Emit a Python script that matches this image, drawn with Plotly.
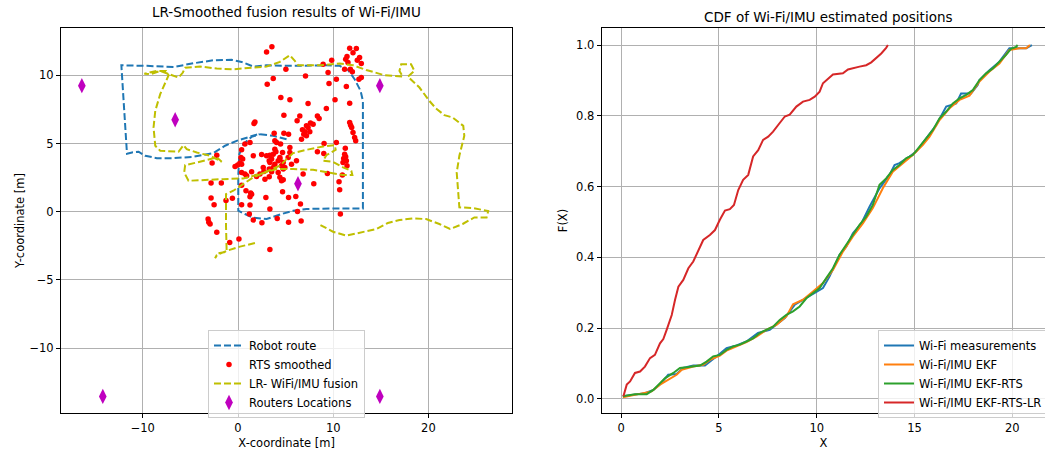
import plotly.graph_objects as go

# ---------------- Left chart data ----------------
route_x = [5.10, 3.70, 2.13, 0.91, -0.14, -1.36, -2.58, -4.68, -6.77, -8.52, -9.74, -10.44, -11.13, -11.66,
           -11.83, -12.01, -12.25, -9.56, -6.77, -4.68, -2.58, -0.66, 0.38, 1.61, 3.00, 5.79, 9.28, 10.68,
           11.55, 12.25, 12.88, 13.12, 13.12, 13.12, 9.98, 7.19, 5.79, 4.57, 3.00, 1.61, 0.73, 0.03, 0.03,
           0.14, 0.56, 1.43, 2.30]
route_y = [5.32, 5.57, 5.69, 5.45, 5.20, 4.84, 4.30, 4.03, 3.93, 3.93, 4.10, 4.40, 4.35, 4.25,
           6.30, 8.74, 10.74, 10.70, 10.62, 10.89, 11.11, 11.14, 10.99, 10.65, 10.74, 10.70, 10.74, 10.70,
           10.40, 9.72, 8.86, 8.13, 3.86, 0.24, 0.24, 0.20, 0.07, -0.17, -0.54, -0.44, -0.17, 0.07, 2.64,
           4.22, 4.96, 5.49, 5.69]

rts_x = [3.00, 3.56, 3.07, 3.70, 5.03, 7.09, 8.94, 9.84, 9.46, 9.56, 10.33, 11.38, 11.73, 12.43, 11.45,
         11.31, 11.55, 11.80, 12.01, 12.77, 12.95, 12.53, 12.70, 12.95, 11.73, 4.50, 5.45, 7.36, 9.28, 10.19,
         4.82, 6.49, 6.21, 8.34, 8.52, 7.61, 7.19, 7.36, 7.02, 6.91, 7.19, 6.67, 6.77, 1.78, 1.68,
         11.83, 11.94, 12.08, 12.25, 12.36, 3.80, 4.82, 5.31, 3.87, 4.05, 4.47, 1.26, 0.73, 0.38,
         -2.23, -2.72, 0.31, 0.21, -0.03, -0.31, 0.49, 2.48, 3.00, 3.35, 3.70, 3.98, 4.68, 5.45, 6.14,
         3.53, 3.28, 3.87, 4.22, 4.40, 4.57, 4.75, 2.65, 2.72, 3.70, 3.28, 3.53, 0.38, 0.73, 0.91, 1.43,
         1.95, 3.28, 4.40, 4.57, 4.75, 7.96, 8.34, 9.01, 9.04, 10.33, 11.27, 11.20, 11.10, 11.38, 11.31,
         11.03, 11.45, 9.39, 10.96, 10.61, 10.68, 10.75, -2.83, -1.75, -2.83, -2.51, -1.26, -0.59, 0.38,
         0.84, 1.33, 1.26, 0.38, 1.26, 2.93, 4.68, 5.31, 6.07, 6.56, 6.25, 3.35, 1.19, 1.61, 2.51, 4.12,
         5.31, 6.63, -3.14, -3.07, -2.93, -2.23, -0.87, 0.10, 3.35,
         3.35, 4.75, 4.40, 4.92, 3.87, 5.62, 0.38, 1.43, 6.84, 5.45, 2.30, 4.22, 5.27, 1.61, 2.83, 7.54,
         7.89, 11.73, 11.20, 12.08]
rts_y = [11.72, 12.11, 9.35, 9.77, 10.45, 9.96, 10.82, 11.11, 10.21, 9.40, 9.72, 9.18, 11.99, 11.97, 11.38,
         11.18, 10.94, 10.45, 10.26, 11.31, 10.87, 11.11, 9.72, 9.84, 7.96, 8.38, 8.21, 7.94, 7.57, 8.21,
         7.08, 7.03, 6.67, 7.03, 6.84, 6.50, 6.30, 6.18, 5.86, 5.69, 5.57, 5.32, 6.01, 6.59, 6.47,
         6.35, 6.18, 5.81, 5.45, 5.20, 5.76, 5.76, 5.69, 5.20, 5.08, 4.96, 5.08, 4.96, 4.54,
         4.15, 3.57, 3.98, 3.57, 3.42, 3.32, 3.86, 4.20, 4.10, 4.15, 4.22, 4.40, 4.35, 4.35, 3.74,
         3.86, 3.74, 3.49, 3.74, 3.86, 3.37, 3.13, 3.25, 2.95, 3.25, 3.13, 2.93, 2.88, 2.76, 2.64, 2.93,
         2.59, 2.56, 2.52, 2.27, 2.34, 2.05, 4.40, 4.27, 5.01, 5.08, 4.66, 4.22, 3.91, 3.74, 4.03,
         3.61, 3.37, 2.81, 2.69, 2.20, 1.61, -0.17, 2.10, 2.10, 1.00, 0.51, 0.83, 0.98, 1.95,
         1.54, 1.37, 1.10, 0.51, 0.49, 1.05, 1.47, 1.05, 1.12, 0.56, 0.02, 0.20, -0.17, -0.61, -0.81, -0.49,
         -0.78, -0.68, -0.54, -0.78, -0.90, -1.51, -2.25, -2.00, -2.78,
         3.61, 3.61, 3.98, 3.25, 4.59, 3.49, 3.49, 1.29, 2.76, 4.71, 2.76, 2.88, 3.98, 4.10, 2.39, 5.86,
         6.42, 6.54, 10.45, 11.67]

lr_x = [1.78, 0.21, -1.01, -2.23, -2.41, -2.06, -1.19, -1.26, -1.26, -0.49, 0.38, 1.61, 3.00, 4.40, 5.10,
        5.79, 7.19, 8.94, 10.16, 10.26, 9.28, 8.94, 9.98, 11.03, 11.90, 12.01, 11.03, 9.63, 7.89, 5.79,
        4.05, 2.30, 0.56, -1.54, -3.28, -5.20, -5.65, -5.55, -4.33, -2.93, -2.23, -1.71, -2.93, -4.33,
        -5.38, -5.72, -6.25, -8.17, -8.69, -8.87, -8.69, -8.17, -7.54, -7.29, -7.54, -8.52, -9.84, -9.21,
        -8.17, -7.12, -6.25, -5.79, -5.55, -3.98, -2.23, -0.49, 1.26, 3.00, 4.40, 5.45, 5.97, 6.32, 8.59,
        10.68, 12.08, 13.47, 15.39, 17.31, 16.96, 17.14, 18.18, 18.53, 17.84, 19.06, 20.10, 20.80, 21.68,
        22.55, 23.66, 23.77, 23.25, 22.97, 23.25, 24.64, 26.28, 26.11, 24.82, 23.60, 22.27, 21.15, 19.76,
        18.36, 16.96, 15.74, 14.52, 13.12, 11.38, 9.98, 8.66]
lr_y = [-2.30, -2.56, -2.83, -3.17, -3.42, -3.05, -2.93, -1.03, 1.29, 1.54, 1.95, 2.52, 2.95, 3.37, 3.86,
        4.30, 4.54, 4.79, 4.88, 4.54, 4.15, 3.74, 3.66, 3.25, 3.00, 2.69, 2.69, 2.88, 3.08, 3.13,
        3.13, 2.76, 2.44, 2.39, 2.34, 2.27, 2.88, 3.42, 3.61, 3.86, 3.98, 3.66, 4.10, 4.35,
        4.59, 4.88, 4.40, 4.47, 4.84, 6.18, 7.40, 8.62, 9.60, 10.01, 10.33, 10.33, 10.13, 10.09,
        10.33, 10.09, 9.84, 10.21, 10.57, 10.65, 10.50, 10.45, 10.57, 10.65, 10.99, 11.48, 11.06, 10.74, 10.74,
        10.87, 10.74, 10.40, 10.01, 9.91, 10.33, 10.82, 10.82, 10.33, 9.91, 9.11, 8.13, 7.57, 7.08,
        6.91, 6.30, 5.57, 4.10, 2.88, 0.32, 0.27, 0.05, -0.42, -0.42, -0.90, -1.27, -0.90, -0.54,
        -0.49, -0.61, -0.83, -1.27, -1.51, -1.76, -1.47, -0.98]

routers_x = [-16.4, -6.6, 6.3, 14.9, -14.2, 14.9]
routers_y = [9.25, 6.75, 2.05, 9.25, -13.55, -13.55]

# ---------------- Right chart data (CDF) ----------------
wifi_x = [0.09, 0.63, 1.22, 1.65, 1.99, 2.41, 2.84, 3.18, 3.69, 4.29, 4.63, 4.97, 5.39, 5.90, 6.41, 7.00,
          7.60, 7.94, 8.37, 8.88, 9.30, 9.90, 10.32, 10.66, 11.17, 11.51, 11.85, 12.28, 12.70, 13.21, 13.72,
          13.98, 14.23, 14.74, 15.09, 15.60, 16.11, 16.62, 17.13, 17.38, 17.89, 18.23, 18.32, 18.83, 19.34,
          19.85, 20.71, 21.00]
wifi_f = [0.007, 0.011, 0.016, 0.025, 0.041, 0.068, 0.070, 0.087, 0.094, 0.094, 0.110, 0.124, 0.143, 0.151,
          0.162, 0.186, 0.195, 0.209, 0.228, 0.266, 0.280, 0.298, 0.313, 0.346, 0.407, 0.430, 0.468, 0.496,
          0.543, 0.595, 0.633, 0.661, 0.666, 0.685, 0.699, 0.736, 0.774, 0.826, 0.835, 0.863, 0.863, 0.887,
          0.901, 0.929, 0.953, 0.991, 0.991, 1.000]

ekf_x = [0.09, 0.54, 1.14, 1.56, 1.99, 2.50, 2.84, 3.10, 3.69, 4.20, 4.54, 5.05, 5.39, 5.90, 6.41, 6.92,
         7.43, 7.94, 8.45, 8.79, 9.30, 9.81, 10.32, 10.83, 11.34, 11.85, 12.36, 12.87, 13.38, 13.89, 14.40,
         14.91, 15.43, 15.77, 16.28, 16.79, 17.30, 17.81, 18.32, 18.83, 19.34, 19.85, 20.37, 20.71, 20.90]
ekf_f = [0.004, 0.009, 0.016, 0.021, 0.040, 0.058, 0.068, 0.082, 0.091, 0.096, 0.110, 0.122, 0.136, 0.148,
         0.160, 0.176, 0.195, 0.209, 0.233, 0.267, 0.280, 0.303, 0.327, 0.364, 0.416, 0.459, 0.496, 0.539,
         0.595, 0.642, 0.666, 0.689, 0.718, 0.741, 0.788, 0.821, 0.845, 0.857, 0.897, 0.925, 0.948, 0.986,
         0.991, 0.991, 1.000]

rts_cdf_x = [0.09, 0.46, 0.71, 1.31, 1.65, 1.99, 2.24, 2.67, 3.01, 3.35, 3.69, 4.03, 4.37, 4.71, 5.05, 5.39,
             5.73, 6.07, 6.41, 6.75, 7.09, 7.43, 7.77, 8.11, 8.45, 8.79, 9.13, 9.47, 9.81, 10.15, 10.49,
             10.83, 11.17, 11.51, 11.85, 12.19, 12.53, 12.87, 13.21, 13.55, 13.89, 14.23, 14.57, 14.91,
             15.26, 15.60, 15.94, 16.28, 16.62, 16.96, 17.30, 17.64, 17.98, 18.32, 18.66, 19.00, 19.34,
             19.68, 19.93, 20.19, 20.27]
rts_cdf_f = [0.007, 0.011, 0.013, 0.013, 0.025, 0.044, 0.058, 0.073, 0.087, 0.089, 0.091, 0.094, 0.105,
             0.120, 0.124, 0.138, 0.148, 0.153, 0.162, 0.171, 0.186, 0.195, 0.204, 0.223, 0.237, 0.247,
             0.261, 0.284, 0.298, 0.313, 0.341, 0.369, 0.407, 0.435, 0.463, 0.492, 0.515, 0.548, 0.605,
             0.623, 0.647, 0.661, 0.680, 0.689, 0.713, 0.736, 0.760, 0.793, 0.812, 0.835, 0.849, 0.859,
             0.873, 0.901, 0.920, 0.934, 0.953, 0.972, 0.989, 0.995, 1.000]

lr_cdf_x = [0.12, 0.29, 0.46, 0.71, 0.97, 1.22, 1.48, 1.73, 1.99, 2.16, 2.33, 2.59, 2.76, 2.93, 3.18, 3.44,
            3.69, 3.95, 4.20, 4.54, 4.80, 5.05, 5.31, 5.56, 5.77, 5.99, 6.24, 6.50, 6.75, 7.01, 7.26, 7.52,
            7.77, 8.03, 8.37, 8.62, 8.96, 9.30, 9.64, 9.90, 10.15, 10.32, 10.58, 10.83, 11.34, 11.60, 12.19,
            12.53, 12.79, 13.04, 13.30, 13.55, 13.64]
lr_cdf_f = [0.007, 0.040, 0.049, 0.073, 0.077, 0.091, 0.115, 0.124, 0.157, 0.169, 0.195, 0.237, 0.280,
            0.317, 0.336, 0.369, 0.388, 0.421, 0.449, 0.463, 0.477, 0.506, 0.532, 0.536, 0.548, 0.590,
            0.619, 0.633, 0.685, 0.703, 0.732, 0.741, 0.755, 0.774, 0.798, 0.803, 0.826, 0.840, 0.845,
            0.854, 0.868, 0.892, 0.906, 0.917, 0.920, 0.931, 0.939, 0.943, 0.951, 0.962, 0.976, 0.992, 1.000]

FONT = "DejaVu Sans"
W, H = 1045, 452

fig = go.Figure()

# Left chart traces
fig.add_trace(go.Scatter(x=route_x, y=route_y, mode="lines", name="Robot route",
                         line=dict(color="#1f77b4", width=2, dash="7px,3px"),
                         xaxis="x", yaxis="y", legend="legend"))
fig.add_trace(go.Scatter(x=rts_x, y=rts_y, mode="markers", name="RTS smoothed",
                         marker=dict(color="#ff0000", size=5.5),
                         xaxis="x", yaxis="y", legend="legend"))
fig.add_trace(go.Scatter(x=lr_x, y=lr_y, mode="lines", name="LR- WiFi/IMU fusion",
                         line=dict(color="#bfbf00", width=2, dash="7px,3px"),
                         xaxis="x", yaxis="y", legend="legend"))
fig.add_trace(go.Scatter(x=routers_x, y=routers_y, mode="markers", name="Routers Locations",
                         marker=dict(color="#bf00bf", symbol="diamond-tall", size=11),
                         xaxis="x", yaxis="y", legend="legend"))

# Right chart traces
cdf_colors = ["#1f77b4", "#ff7f0e", "#2ca02c", "#d62728"]
for (xs, fs, nm, c) in [(wifi_x, wifi_f, "Wi-Fi measurements", cdf_colors[0]),
                        (ekf_x, ekf_f, "Wi-Fi/IMU EKF", cdf_colors[1]),
                        (rts_cdf_x, rts_cdf_f, "Wi-Fi/IMU EKF-RTS", cdf_colors[2]),
                        (lr_cdf_x, lr_cdf_f, "Wi-Fi/IMU EKF-RTS-LR", cdf_colors[3])]:
    fig.add_trace(go.Scatter(x=xs, y=fs, mode="lines", name=nm,
                             line=dict(color=c, width=2),
                             xaxis="x2", yaxis="y2", legend="legend2"))

axis_common = dict(showline=True, mirror=True, linecolor="black", linewidth=1,
                   ticks="outside", ticklen=4, tickcolor="black", tickwidth=1,
                   showgrid=True, gridcolor="#b0b0b0", gridwidth=0.8, zeroline=False,
                   tickfont=dict(family=FONT, size=11.5, color="black"))

yd = [1 - 413.3 / H, 1 - 27.7 / H]

fig.update_layout(
    width=W, height=H,
    margin=dict(l=0, r=0, t=0, b=0, autoexpand=False),
    paper_bgcolor="white", plot_bgcolor="white",
    font=dict(family=FONT, size=11.5, color="black"),
    showlegend=True,
    hovermode=False,
    xaxis=dict(domain=[61 / W, 512.3 / W], range=[-18.59, 28.81], tickvals=[-10, 0, 10, 20],
               title=dict(text="X-coordinate [m]", standoff=4, font=dict(size=11.5)), anchor="y",
               **axis_common),
    yaxis=dict(domain=yd, range=[-14.79, 13.50], tickvals=[-10, -5, 0, 5, 10],
               title=dict(text="Y-coordinate [m]", standoff=2, font=dict(size=11.5)), anchor="x",
               **axis_common),
    xaxis2=dict(domain=[601.7 / W, 1.0], range=[-0.99, 21.67], tickvals=[0, 5, 10, 15, 20],
                title=dict(text="X", standoff=4, font=dict(size=11.5)), anchor="y2",
                **axis_common),
    yaxis2=dict(domain=yd, range=[-0.041, 1.049], tickvals=[0, 0.2, 0.4, 0.6, 0.8, 1.0],
                tickformat=".1f",
                title=dict(text="F(X)", standoff=6, font=dict(size=11.5)), anchor="x2",
                **axis_common),
    legend=dict(x=208 / W, y=1 - 330 / H, xanchor="left", yanchor="top",
                bgcolor="rgba(255,255,255,0.8)", bordercolor="#cccccc", borderwidth=1,
                font=dict(family=FONT, size=11.5), itemwidth=30, tracegroupgap=0),
    legend2=dict(x=878 / W, y=1 - 330 / H, xanchor="left", yanchor="top",
                 bgcolor="rgba(255,255,255,0.8)", bordercolor="#cccccc", borderwidth=1,
                 font=dict(family=FONT, size=11.5), itemwidth=30, tracegroupgap=0),
    annotations=[
        dict(text="LR-Smoothed fusion results of Wi-Fi/IMU", x=286.5 / W, y=1 - 12 / H,
             xref="paper", yref="paper", xanchor="center", yanchor="middle", showarrow=False,
             font=dict(family=FONT, size=13.5, color="black")),
        dict(text="CDF of Wi-Fi/IMU estimated positions", x=828 / W, y=1 - 17 / H,
             xref="paper", yref="paper", xanchor="center", yanchor="middle", showarrow=False,
             font=dict(family=FONT, size=13.5, color="black")),
    ],
)

fig.write_html("out.html", config={"displayModeBar": False},
               post_script="document.body.style.margin='0px';document.body.style.padding='0px';"
                           "document.body.style.overflow='hidden';")
